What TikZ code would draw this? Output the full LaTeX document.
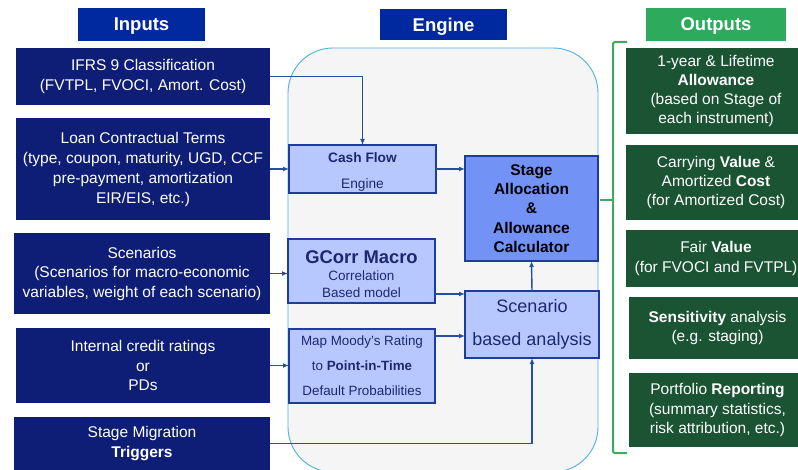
\documentclass[tikz,border=0pt]{standalone}
\usepackage{fontspec}
\setmainfont{Liberation Sans}
\usetikzlibrary{arrows.meta}

\definecolor{navy}{RGB}{14,30,118}
\definecolor{hdrblue}{RGB}{0,41,160}
\definecolor{hdrgreen}{RGB}{46,170,92}
\definecolor{outgreen}{RGB}{26,84,50}
\definecolor{lightbox}{RGB}{182,200,255}
\definecolor{midbox}{RGB}{114,146,246}
\definecolor{edgeblue}{RGB}{30,60,160}
\definecolor{arrowblue}{RGB}{40,78,160}
\definecolor{enginefill}{RGB}{245,245,245}
\definecolor{engineedge}{RGB}{80,176,228}
\definecolor{inktext}{RGB}{26,42,112}
\definecolor{bracketgreen}{RGB}{60,170,96}

\tikzset{
  blk/.style={anchor=north west, inner sep=0pt, outer sep=0pt, align=center},
  header/.style={blk, text=white, text depth=0pt, font=\fontsize{18.5}{20}\selectfont\bfseries},
  inbox/.style={blk, fill=navy, text=white, font=\fontsize{15.5}{19.5}\selectfont},
  outbox/.style={blk, fill=outgreen, text=white, font=\fontsize{15.5}{19.3}\selectfont},
  lbox/.style={blk, fill=lightbox, draw=edgeblue, line width=1.2pt, text=inktext},
  mbox/.style={blk, fill=midbox, draw=edgeblue, line width=1.2pt, text=black},
  arr/.style={draw=arrowblue, line width=1.4pt, -{Latex[length=6pt,width=5pt]}},
  bracket/.style={draw=bracketgreen, line width=2pt, rounded corners=2pt},
}

\begin{document}
\begin{tikzpicture}[x=1pt, y=-1pt]
\clip (0,0) rectangle (798,470);
\fill[white] (0,0) rectangle (798,470);

% column headers
\node[header, fill=hdrblue, minimum width=127, minimum height=33] (hin) at (78,8) {Inputs};
\node[header, fill=hdrblue, minimum width=127, minimum height=31] (heng) at (380,9) {Engine};
\node[header, fill=hdrgreen, minimum width=140, minimum height=33] (hout) at (646,8) {Outputs};

% engine container
\draw[fill=enginefill, draw=engineedge, line width=0.9pt, rounded corners=45pt]
  (288,48) rectangle (598,472);

% inputs
\node[inbox, minimum width=254, minimum height=57] (in1) at (16,48)
  {IFRS 9 Classification\\(FVTPL, FVOCI, Amort. Cost)};
\node[inbox, minimum width=254, minimum height=102, font=\fontsize{15.5}{20}\selectfont] (in2) at (16,118)
  {Loan Contractual Terms\\(type, coupon, maturity, UGD, CCF\\pre-payment, amortization\\EIR/EIS, etc.)};
\node[inbox, minimum width=256, minimum height=81] (in3) at (14,233)
  {Scenarios\\(Scenarios for macro-economic\\variables, weight of each scenario)};
\node[inbox, minimum width=254, minimum height=75] (in4) at (16,328)
  {Internal credit ratings\\or\\PDs};
\node[inbox, minimum width=256, minimum height=53] (in5) at (14,417)
  {Stage Migration\\\textbf{Triggers}};

% engine blocks
\node[lbox, minimum width=147, minimum height=48, font=\fontsize{13.7}{26}\selectfont] (cf) at (289,145)
  {\rule{0pt}{1.1em}\textbf{Cash Flow}\\Engine};
\node[lbox, minimum width=147, minimum height=64, font=\fontsize{13.5}{17}\selectfont] (gc) at (288,239)
  {{\fontsize{18.4}{19}\selectfont\bfseries\rule{0pt}{1em}GCorr Macro}\\Correlation\\Based model};
\node[lbox, minimum width=146, minimum height=74, font=\fontsize{13.4}{25}\selectfont] (pit) at (289,329)
  {Map Moody’s Rating\\to \textbf{Point-in-Time}\\Default Probabilities};
\node[mbox, minimum width=133, minimum height=105, font=\fontsize{15.5}{19.3}\selectfont\bfseries] (st) at (465,156)
  {Stage\\Allocation\\\&\\Allowance\\Calculator};
\node[lbox, minimum width=134, minimum height=67, font=\fontsize{18}{33}\selectfont] (sc) at (465,291)
  {Scenario\\based analysis};

% connectors
\draw[arr] (in1.east) -| (cf.north);
\draw[arr] (in2.east) -- (cf.west |- in2.east);
\draw[arr] (cf.east) -- (st.west |- cf.east);
\draw[arr] (in3.east) -- (gc.west |- in3.east);
\coordinate (gcout) at (gc.east |- 0,294);
\draw[arr] (gcout) -- (sc.west |- gcout);
\coordinate (pitout) at (pit.east |- 0,336);
\draw[arr] (pitout) -- (sc.west |- pitout);
\draw[arr] (in4.east) -- (pit.west |- in4.east);
\draw[arr] (in5.east) -| (sc.south);
\draw[arr] (sc.north) -- (st.south);

% outputs bracket
\coordinate (brtop) at (627,42);
\coordinate (brbot) at (627,453);
\coordinate (brtip) at (600,200);
\draw[bracket] (brtop) -- (613,42) -- (613,453) -- (brbot);
\draw[bracket] (613,200) -- (brtip);

% outputs
\node[outbox, minimum width=180, minimum height=86] (out1) at (626,48)
  {1-year \& Lifetime\\\textbf{Allowance}\\(based on Stage of\\each instrument)};
\node[outbox, minimum width=180, minimum height=75] (out2) at (626,145)
  {Carrying \textbf{Value} \&\\Amortized \textbf{Cost}\\(for Amortized Cost)};
\node[outbox, minimum width=180, minimum height=57] (out3) at (626,230)
  {Fair \textbf{Value}\\(for FVOCI and FVTPL)};
\node[outbox, minimum width=177, minimum height=62] (out4) at (629,297)
  {\textbf{Sensitivity} analysis\\(e.g. staging)};
\node[outbox, minimum width=177, minimum height=74] (out5) at (629,373)
  {Portfolio \textbf{Reporting}\\(summary statistics,\\risk attribution, etc.)};
\end{tikzpicture}
\end{document}
